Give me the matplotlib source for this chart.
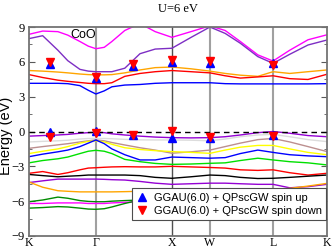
from pathlib import Path
import matplotlib
matplotlib.use("Agg")
import matplotlib.pyplot as plt
from matplotlib.ticker import MultipleLocator

# ============================================================
# DATA
# ============================================================
OUT_PNG = Path("out.png")

# k-path position of each sample (path length units)
KPATH = [0.00, 0.18, 0.38, 0.51, 0.67, 0.78, 0.88, 0.99, 1.09, 1.26, 1.46,
         1.66, 1.88, 2.13, 2.38, 2.58, 2.78, 3.01, 3.21, 3.43, 3.67, 3.92]

HSYM_POS = [0.00, 0.88, 1.88, 2.38, 3.21, 3.92]
HSYM_LABELS = ["K", "Γ", "X", "W", "L", "K"]

# conduction bands (eV)
c_magenta = [8.37, 8.65, 8.60, 8.30, 7.75, 7.35, 7.13, 7.25, 7.75, 8.70, 9.30,
             8.60, 8.11, 8.60, 9.10, 8.70, 7.75, 6.60, 6.07, 7.00, 7.90, 8.33]
c_purple = [8.00, 8.25, 7.00, 6.10, 5.35, 5.20, 5.15, 5.15, 5.15, 5.45, 6.70,
            7.10, 7.17, 8.10, 9.00, 8.45, 7.60, 6.45, 5.87, 6.65, 7.45, 7.88]
c_orange = [5.25, 5.20, 5.12, 5.05, 4.95, 4.90, 4.88, 4.88, 4.90, 5.05, 5.30,
            5.50, 5.55, 5.40, 5.20, 5.00, 4.85, 4.75, 5.15, 5.00, 5.15, 5.30]
c_red = [4.90, 4.65, 4.42, 4.32, 4.22, 4.15, 4.12, 4.12, 4.20, 4.75, 5.00,
         5.15, 5.25, 5.15, 5.05, 4.80, 4.60, 4.70, 4.80, 4.55, 4.48, 4.93]
c_blue = [4.15, 4.15, 4.15, 4.12, 3.95, 3.55, 3.23, 3.50, 3.85, 4.00, 4.05,
          4.15, 4.20, 4.20, 4.20, 4.12, 4.10, 4.10, 4.10, 4.10, 4.10, 4.12]

# valence bands (eV)
v_purple = [-0.40, -0.35, -0.30, -0.25, -0.15, -0.10, -0.07, -0.10, -0.20, -0.30, -0.40,
            -0.48, -0.53, -0.55, -0.53, -0.45, -0.30, -0.10, 0.00, -0.15, -0.35, -0.45]
v_grey = [-0.90, -0.85, -0.80, -0.75, -0.65, -0.60, -0.60, -0.60, -0.62, -0.68, -0.72,
          -0.73, -0.73, -0.75, -0.80, -0.65, -0.45, -0.30, -0.25, -0.45, -0.70, -0.87]
v_brown = [-1.45, -1.30, -1.15, -1.05, -0.90, -0.80, -0.73, -0.80, -0.95, -1.16, -1.40,
           -1.60, -1.87, -1.75, -1.60, -1.30, -1.00, -0.70, -0.60, -0.90, -1.30, -1.73]
v_yellow = [-1.90, -1.70, -1.50, -1.30, -1.00, -0.85, -0.80, -0.90, -1.10, -1.40, -1.55,
            -1.65, -1.73, -1.80, -1.88, -1.60, -1.35, -1.20, -1.20, -1.50, -1.80, -2.00]
v_blue = [-2.17, -1.95, -1.75, -1.60, -1.30, -1.00, -0.73, -1.05, -1.50, -2.00, -2.45,
          -2.45, -2.20, -2.25, -2.30, -2.25, -1.90, -1.60, -1.80, -2.00, -2.10, -2.17]
v_green = [-2.70, -2.50, -2.35, -2.20, -1.90, -1.70, -1.62, -1.70, -1.90, -2.40, -2.60,
           -2.75, -2.83, -2.80, -2.74, -2.70, -2.50, -2.30, -2.45, -2.60, -2.70, -2.88]
v_red = [-3.60, -3.45, -3.70, -3.55, -3.30, -3.15, -3.12, -3.08, -3.05, -3.03, -3.05,
         -3.05, -3.00, -3.05, -3.10, -3.15, -3.30, -3.35, -3.30, -3.55, -3.75, -3.60]
v_black = [-3.70, -3.80, -3.90, -3.85, -3.80, -3.75, -3.75, -3.75, -3.75, -3.75, -3.80,
           -3.95, -4.03, -3.90, -3.75, -3.80, -3.95, -4.05, -4.03, -3.95, -3.85, -3.75]
v_purple2 = [-4.40, -4.25, -4.10, -4.10, -4.10, -4.10, -4.10, -4.12, -4.15, -4.18, -4.30,
             -4.45, -4.55, -4.50, -4.45, -4.45, -4.50, -4.55, -4.55, -4.85, -4.75, -4.55]
v_orange = [-4.35, -4.80, -5.10, -5.15, -5.20, -5.20, -5.20, -5.20, -5.20, -5.18, -5.15,
            -5.10, -5.05, -5.15, -5.18, -5.05, -5.00, -4.95, -5.00, -4.90, -4.70, -4.47]
v_dkgreen1 = [-6.05, -5.90, -5.65, -5.75, -5.95, -6.02, -6.05, -6.05, -6.00, -5.95, -5.90,
              -5.85, -5.80, -5.80, -5.85, -5.90, -5.95, -6.00, -6.00, -5.95, -5.90, -5.90]
v_magenta = [-6.20, -6.20, -6.15, -6.15, -6.15, -6.20, -6.20, -6.20, -6.15, -6.10, -6.05,
             -6.00, -6.00, -6.00, -6.00, -6.00, -6.00, -5.95, -5.95, -5.95, -5.90, -5.90]
v_dkgreen2 = [-6.60, -6.55, -6.47, -6.50, -6.60, -6.68, -6.70, -6.65, -6.50, -6.20, -5.90,
              -6.00, -6.20, -6.30, -6.40, -6.50, -6.60, -6.60, -6.60, -6.60, -6.60, -6.62]

# QPscGW points
QP_K = [0.27, 0.88, 1.37, 1.88, 2.38, 3.21]
qp_up_cond = [5.80, 4.60, 5.65, 6.00, 5.88, 5.92]
qp_up_val = [-0.02, 0.02, -0.28, -0.58, -0.55, -0.30]
qp_dn_cond = [5.95, 4.66, 5.80, 6.15, 6.05, 5.72]
qp_dn_val = [-0.45, -0.15, -0.30, 0.04, -0.48, -0.38]

# ============================================================
# STYLE
# ============================================================
SERIF = "Liberation Serif"
SANS = "Liberation Sans"

BANDS = [
    (c_magenta, "#ff00ff"), (c_purple, "#7d2ec4"), (c_orange, "#ffa500"),
    (c_red, "#ff0000"), (c_blue, "#0000ff"),
    (v_grey, "#dcdcdc"), (v_brown, "#bc8f8f"), (v_yellow, "#ffff00"),
    (v_blue, "#0000ff"), (v_green, "#00e000"), (v_red, "#ff0000"),
    (v_black, "#000000"), (v_purple2, "#9400d3"), (v_orange, "#ffa500"),
    (v_dkgreen1, "#008b00"), (v_magenta, "#ff00ff"), (v_dkgreen2, "#008b00"),
    (v_purple, "#9400d3"),
]

VLINE_STYLE = {
    "Γ": ("#a0a0a0", 1.5), "X": ("#505050", 1.0),
    "W": ("#a0a0a0", 1.5), "L": ("#a0a0a0", 1.5),
}


def main():
    fig = plt.figure(figsize=(3.32, 2.48), dpi=100)
    ax = fig.add_axes([29 / 332, 12 / 248, 298 / 332, 209 / 248])

    for pos, lab in zip(HSYM_POS, HSYM_LABELS):
        if lab in VLINE_STYLE:
            col, lw = VLINE_STYLE[lab]
            ax.axvline(pos, color=col, lw=lw, zorder=1)

    for vals, col in BANDS:
        ax.plot(KPATH, vals, color=col, lw=1.0, zorder=2)

    ax.axhline(0.0, color="black", lw=1.0, ls=(0, (4, 3)), zorder=3)

    ax.plot(QP_K, qp_up_cond, ls="none", marker="^", ms=5.5, color="#0000ff", zorder=4)
    ax.plot(QP_K, qp_up_val, ls="none", marker="^", ms=5.5, color="#0000ff", zorder=4,
            label="GGAU(6.0) + QPscGW spin up")
    ax.plot(QP_K, qp_dn_cond, ls="none", marker="v", ms=5.5, color="#ff0000", zorder=5)
    ax.plot(QP_K, qp_dn_val, ls="none", marker="v", ms=5.5, color="#ff0000", zorder=5,
            label="GGAU(6.0) + QPscGW spin down")

    ax.set_xlim(HSYM_POS[0], HSYM_POS[-1])
    ax.set_ylim(-9, 9)
    ax.set_xticks(HSYM_POS)
    ax.set_xticklabels(HSYM_LABELS, fontfamily=SERIF, fontsize=8.5)
    ax.yaxis.set_major_locator(MultipleLocator(3))
    ax.yaxis.set_minor_locator(MultipleLocator(1.5))
    for lab in ax.get_yticklabels():
        lab.set_fontfamily(SERIF)
        lab.set_fontsize(9)
    ax.tick_params(axis="x", length=0, pad=0.5)
    ax.tick_params(axis="y", which="both", direction="in", left=True, right=True,
                   color="0.35", pad=3)
    ax.tick_params(axis="y", which="major", length=4)
    ax.tick_params(axis="y", which="minor", length=2)

    for sp in ax.spines.values():
        sp.set_color("0.45")
        sp.set_linewidth(1.3)

    ax.set_ylabel("Energy (eV)", fontfamily=SANS, fontsize=10.5)
    ax.yaxis.set_label_coords(-0.054, 0.478)
    ax.text(0.71, 8.3, "CoO", fontfamily=SANS, fontsize=9, ha="center", va="center")
    fig.text(0.536, 1 - 12.5 / 248, "U=6 eV", fontfamily=SERIF, fontsize=9,
             ha="center", va="baseline")

    leg = ax.legend(loc="lower right", bbox_to_anchor=(0.9966, 0.0766),
                    borderaxespad=0, fancybox=False, numpoints=1,
                    prop={"family": SANS, "size": 8}, handlelength=1.0,
                    handletextpad=0.55, labelspacing=0.25, borderpad=0.4)
    leg.get_frame().set_edgecolor("0.3")
    leg.get_frame().set_linewidth(0.8)
    leg.get_frame().set_alpha(1.0)

    fig.savefig(OUT_PNG, dpi=100)
    plt.close(fig)


if __name__ == "__main__":
    main()
